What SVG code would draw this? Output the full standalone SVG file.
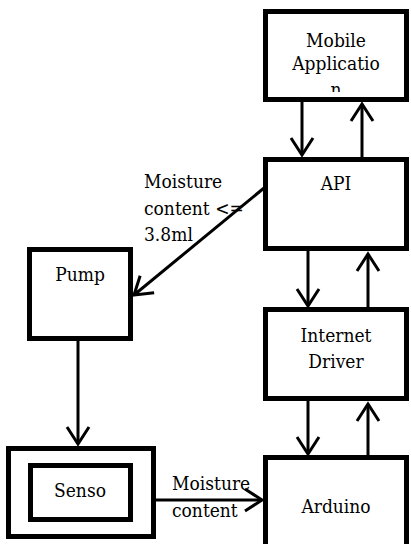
<svg xmlns="http://www.w3.org/2000/svg" width="411" height="544" viewBox="0 0 411 544">
<style>
.box{fill:#fff;stroke:#000;stroke-width:5}
.lbl{font-family:'DejaVu Serif Condensed','DejaVu Serif',serif;font-stretch:condensed;font-size:19px;fill:#000}
.c{text-anchor:middle}
.edge{stroke:#000;stroke-width:3;fill:none;marker-end:url(#arr)}
</style>
<defs>
<marker id="arr" markerUnits="userSpaceOnUse" viewBox="-20 -13 22 26" refX="0" refY="0" markerWidth="22" markerHeight="26" orient="auto" overflow="visible">
<path d="M-17,-11 L0,0 L-17,11" fill="none" stroke="#000" stroke-width="3"/>
</marker>
<clipPath id="mclip"><rect x="263" y="9" width="146" height="83"/></clipPath>
</defs>
<g id="mobile">
<rect class="box" x="265.5" y="11.5" width="141" height="88"/>
<g clip-path="url(#mclip)">
<text class="lbl c" x="336" y="47">Mobile</text>
<text class="lbl c" x="336" y="70">Applicatio</text>
<text class="lbl c" x="336" y="96">n</text>
</g>
</g>
<g id="api">
<rect class="box" x="265.5" y="159.5" width="141" height="89"/>
<text class="lbl c" x="336" y="190">API</text>
</g>
<g id="pump">
<rect class="box" x="29.5" y="249.5" width="101" height="89"/>
<text class="lbl c" x="80" y="281">Pump</text>
</g>
<g id="internet">
<rect class="box" x="265.5" y="309.5" width="141" height="89"/>
<text class="lbl c" x="336" y="342">Internet</text>
<text class="lbl c" x="336" y="368">Driver</text>
</g>
<g id="arduino">
<rect class="box" x="265.5" y="457.5" width="141" height="100"/>
<text class="lbl c" x="336" y="513">Arduino</text>
</g>
<g id="sensor">
<rect class="box" x="8.5" y="448.5" width="145" height="88"/>
<rect class="box" x="30.5" y="465.5" width="100" height="54"/>
<text class="lbl c" x="80" y="497">Senso</text>
</g>
<g id="labels">
<text class="lbl" x="144" y="188">Moisture</text>
<text class="lbl" x="144" y="215">content &lt;=</text>
<text class="lbl" x="144" y="241">3.8ml</text>
<text class="lbl" x="172" y="490">Moisture</text>
<text class="lbl" x="172" y="517">content</text>
</g>
<g id="connectors">
<line class="edge" x1="302" y1="102" x2="302" y2="155"/>
<line class="edge" x1="362" y1="157" x2="362" y2="104"/>
<line class="edge" x1="308" y1="251" x2="308" y2="306"/>
<line class="edge" x1="368" y1="307" x2="368" y2="254"/>
<line class="edge" x1="308" y1="401" x2="308" y2="454"/>
<line class="edge" x1="368" y1="455" x2="368" y2="404"/>
<line class="edge" x1="264" y1="188" x2="134" y2="295"/>
<line class="edge" x1="78" y1="341" x2="78" y2="444"/>
<line class="edge" x1="156" y1="500" x2="262" y2="500"/>
</g>
</svg>
